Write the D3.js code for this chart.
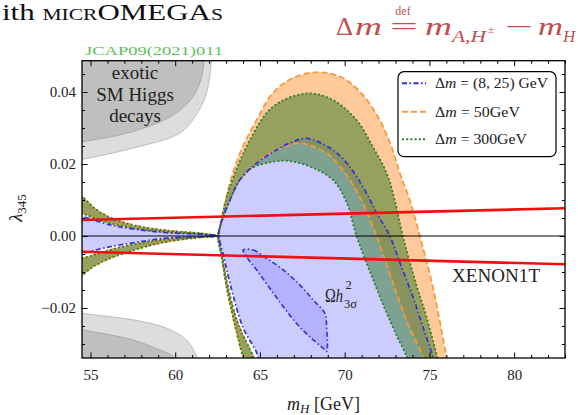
<!DOCTYPE html>
<html><head><meta charset="utf-8">
<script src="https://cdn.jsdelivr.net/npm/d3@7"></script>
<style>
body{margin:0;background:#fff}
svg{display:block}
text{font-family:"Liberation Serif","Times New Roman",serif}
</style>
</head><body>
<svg id="c" width="578" height="415"></svg>
<script>
// ---------------- data ----------------
const xDomain = [54.5, 83];
const yDomain = [-0.0339, 0.0487];
const xTicks = [55, 60, 65, 70, 75, 80];
const yTicks = [-0.02, 0.00, 0.02, 0.04];
const legendLabels = ["(8, 25) GeV", "50GeV", "300GeV"];

// Δm = 50 GeV (orange) band
const orangeOuter = [[64.2,-0.036],[64.0,-0.0335],[63.5,-0.0243],[63.03,-0.0141],[62.74,-0.0058],[62.52,0],[62.64,0.0026],[62.93,0.0092],[63.40,0.0175],[63.99,0.0248],[64.80,0.0322],[65.76,0.0397],[66.94,0.0439],[68.53,0.0455],[69.89,0.0439],[71.07,0.0392],[72.07,0.0322],[72.76,0.0248],[73.25,0.0175],[73.84,0.0100],[74.43,0.0],[75.2,-0.0141],[76.0,-0.0335],[76.1,-0.036]];
const orangeInner = [[64.75,-0.036],[64.6,-0.0335],[63.70,-0.0243],[63.11,-0.0141],[62.78,-0.0058],[62.56,0],[62.66,0.0026],[63.23,0.0100],[63.82,0.0156],[64.80,0.0202],[65.39,0.0225],[66.57,0.0250],[67.35,0.0258],[68.93,0.0230],[69.89,0.0183],[70.89,0.0109],[71.88,0.0],[72.7,-0.0110],[73.7,-0.0240],[74.6,-0.0335],[74.7,-0.036]];
// Δm = 300 GeV (green) band
const greenOuter = [[64.2,-0.036],[64.0,-0.0335],[63.5,-0.0243],[63.03,-0.0141],[62.74,-0.0058],[62.52,0],[62.64,0.0025],[62.95,0.0090],[63.23,0.0137],[64.41,0.0267],[65.76,0.0359],[67.75,0.0396],[69.30,0.0378],[70.70,0.0322],[71.66,0.0248],[72.47,0.0175],[72.95,0.0100],[73.43,0.0],[74.2,-0.0131],[74.82,-0.0224],[75.45,-0.0335],[75.55,-0.036]];
const greenInner = [[64.75,-0.036],[64.6,-0.0335],[63.70,-0.0243],[63.11,-0.0141],[62.78,-0.0058],[62.56,0],[62.66,0.0026],[63.23,0.0100],[63.82,0.0156],[64.5,0.0188],[65.4,0.0203],[66.57,0.0209],[67.94,0.0193],[69.3,0.0156],[70.1,0.0095],[70.7,0.0],[71.5,-0.0100],[72.35,-0.0200],[73.1,-0.0280],[73.65,-0.0335],[73.75,-0.036]];
// Δm = (8,25) GeV (blue) region
const blueArch = [[64.9,-0.036],[64.86,-0.0331],[63.99,-0.0253],[63.23,-0.0131],[62.87,-0.0058],[62.58,0],[62.64,0.0026],[63.23,0.0100],[63.82,0.0156],[64.80,0.0202],[65.98,0.0239],[66.76,0.0258],[67.75,0.0271],[69.30,0.0239],[70.30,0.0192],[71.18,0.0128],[71.89,0.0064],[72.66,0.0],[73.3,-0.0080],[74.02,-0.0168],[74.61,-0.0252],[75.20,-0.0335],[75.3,-0.036]];
// low-mass lips (mH < mh/2)
const lipUpperTop = [[54.0,0.0125],[54.54,0.0108],[55.37,0.0072],[56.55,0.0044],[57.92,0.0026],[59.49,0.0015],[61.46,0.00075],[62.52,0]];
const lipUpperBot = [[54.0,0.0075],[54.54,0.0063],[55.56,0.0044],[56.55,0.0031],[57.92,0.0019],[59.49,0.0011],[61.46,0.00056],[62.52,0]];
const lipLowerTop = [[54.0,-0.0067],[54.54,-0.0062],[56.15,-0.0039],[57.92,-0.0020],[59.49,-0.0009],[61.46,-0.0002],[62.52,0]];
const lipLowerBot = [[54.0,-0.0125],[54.54,-0.0108],[55.17,-0.0085],[56.15,-0.0062],[57.92,-0.0034],[59.49,-0.0016],[61.46,-0.0004],[62.52,0]];
const blueLipTop = [[54.0,0.0060],[54.54,0.0054],[56.15,0.0031],[57.92,0.0017],[59.49,0.0009],[62.44,0.0002],[62.52,0]];
const blueLipBot = [[54.0,-0.0055],[54.54,-0.0048],[56.15,-0.0030],[57.92,-0.0016],[59.49,-0.0006],[62.44,-0.0001],[62.52,0]];
// Ωh² 3σ region
const omega3s = [[64.01,-0.0039],[64.60,-0.0039],[65.39,-0.0062],[66.37,-0.0094],[67.35,-0.0136],[68.14,-0.0178],[68.83,-0.0215],[68.93,-0.0250],[68.93,-0.0321],[68.73,-0.0312],[67.94,-0.0280],[67.16,-0.0243],[66.37,-0.0196],[65.58,-0.0145],[64.80,-0.0094],[64.21,-0.0058]];
// exotic SM Higgs decays (grey)
const greyTopLight = [[54.0,0.0208],[54.54,0.0213],[57.5,0.0244],[60.28,0.0286],[61.16,0.0331],[61.85,0.0397],[62.15,0.0489],[62.2,0.05]];
const greyTopDark  = [[54.0,0.0258],[54.54,0.0262],[57.5,0.0290],[59.87,0.0336],[61.05,0.0387],[61.56,0.0443],[61.69,0.0489],[61.7,0.05]];
const greyBotLight = [[54.0,-0.0210],[54.54,-0.0215],[57.52,-0.0233],[59.49,-0.0256],[60.67,-0.0289],[61.26,-0.0335],[61.35,-0.035]];
const greyBotDark  = [[54.0,-0.0256],[54.54,-0.0261],[57.52,-0.0289],[59.1,-0.0317],[59.9,-0.0335],[60.0,-0.035]];
// XENON1T limits
const xenonUpper = [[54.5,0.00444],[83,0.0077]];
const xenonLower = [[54.5,-0.00436],[83,-0.00786]];

// ---------------- styles ----------------
const C = {
  blueFill:"rgba(40,40,255,0.24)", blueLine:"#2f2fe6",
  orangeFill:"rgba(255,135,30,0.45)", orangeLine:"#f59a3c",
  greenFill:"rgba(45,120,35,0.5)", greenLine:"#2e7d2e",
  red:"#f01010", formula:"#c05050", jcap:"#5cbf5c"
};
const dashBlue="5,2.5,1.5,2.5", dashOrange="6,3", dashGreen="2,2.2";

// ---------------- chart ----------------
const svg = d3.select("#c");
const M = {l:82, r:565, t:60.7, b:358};
const x = d3.scaleLinear().domain(xDomain).range([M.l, M.r]);
const y = d3.scaleLinear().domain(yDomain).range([M.b, M.t]);

svg.append("defs").append("clipPath").attr("id","clip")
  .append("rect").attr("x",M.l).attr("y",M.t).attr("width",M.r-M.l).attr("height",M.b-M.t);
const plot = svg.append("g").attr("clip-path","url(#clip)");

const line = d3.line().x(d=>x(d[0])).y(d=>y(d[1])).curve(d3.curveCatmullRom.alpha(0.5));
const lin = d3.line().x(d=>x(d[0])).y(d=>y(d[1]));
const band = (a,b) => line(a) + "L" + line(b.slice().reverse()).slice(1) + "Z";
const toCorner = (pts, cy) => line(pts) + `L${x(xDomain[0]-1)},${y(cy)}Z`;

// grey regions
plot.append("path").attr("d",toCorner(greyTopLight, yDomain[1]+0.01)).attr("fill","#dddddd").attr("stroke","#bdbdbd").attr("stroke-width",1);
plot.append("path").attr("d",toCorner(greyTopDark, yDomain[1]+0.01)).attr("fill","#bfbfbf").attr("stroke","#a9a9a9").attr("stroke-width",1);
plot.append("path").attr("d",toCorner(greyBotLight, yDomain[0]-0.01)).attr("fill","#dddddd").attr("stroke","#bdbdbd").attr("stroke-width",1);
plot.append("path").attr("d",toCorner(greyBotDark, yDomain[0]-0.01)).attr("fill","#bfbfbf").attr("stroke","#a9a9a9").attr("stroke-width",1);

// fills
plot.append("path").attr("d", line(blueArch)+"Z").attr("fill",C.blueFill);
plot.append("path").attr("d", band(blueLipTop, blueLipBot)).attr("fill",C.blueFill);
[[orangeOuter,orangeInner,C.orangeFill],[greenOuter,greenInner,C.greenFill]].forEach(([o,i,f])=>{
  plot.append("path").attr("d", band(o,i)).attr("fill",f);
  plot.append("path").attr("d", band(lipUpperTop,lipUpperBot)).attr("fill",f);
  plot.append("path").attr("d", band(lipLowerTop,lipLowerBot)).attr("fill",f);
});
plot.append("path").attr("d", d3.line().x(d=>x(d[0])).y(d=>y(d[1])).curve(d3.curveCatmullRomClosed.alpha(0.5))(omega3s))
  .attr("fill","rgba(60,60,255,0.17)").attr("stroke",C.blueLine).attr("stroke-width",1.6).attr("stroke-dasharray",dashBlue);

// boundary lines
function stroke(pts, col, dash, w){
  plot.append("path").attr("d",line(pts)).attr("fill","none").attr("stroke",col)
    .attr("stroke-width",w).attr("stroke-dasharray",dash);
}
[orangeOuter, orangeInner, lipUpperTop, lipUpperBot, lipLowerTop, lipLowerBot].forEach(p=>stroke(p,C.orangeLine,dashOrange,1.8));
[greenOuter, greenInner, lipUpperTop, lipUpperBot, lipLowerTop, lipLowerBot].forEach(p=>stroke(p,C.greenLine,dashGreen,1.8));
[blueArch, blueLipTop, blueLipBot].forEach(p=>stroke(p,C.blueLine,dashBlue,1.7));

// zero line and XENON1T
plot.append("path").attr("d",lin([[xDomain[0],0],[xDomain[1],0]])).attr("stroke","#000").attr("stroke-width",1);
[xenonUpper, xenonLower].forEach(p=>plot.append("path").attr("d",lin(p)).attr("stroke",C.red).attr("stroke-width",2.6));

// in-plot texts
const T = (sel,xx,yy,size) => sel.append("text").attr("x",xx).attr("y",yy).attr("font-size",size).attr("fill","#222");
T(svg,135,79,19).attr("text-anchor","middle").text("exotic");
T(svg,135,101,19).attr("text-anchor","middle").text("SM Higgs");
T(svg,135,122,19).attr("text-anchor","middle").text("decays");
T(svg,496,282,19).attr("text-anchor","middle").attr("textLength",88).text("XENON1T");
const om = T(svg,325,301.5,19).attr("textLength",18).attr("lengthAdjust","spacingAndGlyphs");
om.append("tspan").text("Ω");
om.append("tspan").attr("font-style","italic").text("h");
T(svg,345.5,289,12.5).text("2");
T(svg,344,308,12.5).text("3σ");

// frame
svg.append("rect").attr("x",M.l).attr("y",M.t).attr("width",M.r-M.l).attr("height",M.b-M.t)
  .attr("fill","none").attr("stroke","#000").attr("stroke-width",1.3);

// axes
const xMinor = d3.range(55,84,1).filter(v=>v%5!==0);
const yMinor = d3.range(-6,10).map(k=>k*0.005).filter(v=>Math.abs(Math.round(v*1000))%20!==0);
function axisStyle(g){ g.select(".domain").remove(); g.selectAll("line").attr("stroke","#000").attr("stroke-width",1);
  g.selectAll("text").attr("font-family","Liberation Serif").attr("font-size",15).attr("fill","#222"); }
svg.append("g").attr("transform",`translate(0,${M.b})`).call(d3.axisBottom(x).tickValues(xTicks).tickSizeInner(-5.5).tickSizeOuter(0).tickPadding(11).tickFormat(d3.format("d"))).call(axisStyle);
svg.append("g").attr("transform",`translate(0,${M.b})`).call(d3.axisBottom(x).tickValues(xMinor).tickSizeInner(-3).tickSizeOuter(0).tickFormat("")).call(axisStyle);
svg.append("g").attr("transform",`translate(0,${M.t})`).call(d3.axisTop(x).tickValues(xTicks).tickSizeInner(-5.5).tickSizeOuter(0).tickFormat("")).call(axisStyle);
svg.append("g").attr("transform",`translate(0,${M.t})`).call(d3.axisTop(x).tickValues(xMinor).tickSizeInner(-3).tickSizeOuter(0).tickFormat("")).call(axisStyle);
svg.append("g").attr("transform",`translate(${M.l},0)`).call(d3.axisLeft(y).tickValues(yTicks).tickSizeInner(-5.5).tickSizeOuter(0).tickPadding(6).tickFormat(d3.format(".2f"))).call(axisStyle);
svg.append("g").attr("transform",`translate(${M.l},0)`).call(d3.axisLeft(y).tickValues(yMinor).tickSizeInner(-3).tickSizeOuter(0).tickFormat("")).call(axisStyle);
svg.append("g").attr("transform",`translate(${M.r},0)`).call(d3.axisRight(y).tickValues(yTicks).tickSizeInner(-5.5).tickSizeOuter(0).tickFormat("")).call(axisStyle);
svg.append("g").attr("transform",`translate(${M.r},0)`).call(d3.axisRight(y).tickValues(yMinor).tickSizeInner(-3).tickSizeOuter(0).tickFormat("")).call(axisStyle);

// axis labels
const xl = svg.append("text").attr("x",(M.l+M.r)/2).attr("y",410).attr("text-anchor","middle").attr("font-size",18).attr("fill","#222");
xl.append("tspan").attr("font-style","italic").text("m");
xl.append("tspan").attr("font-style","italic").attr("font-size",13).attr("dy",2.5).text("H");
xl.append("tspan").attr("dy",-2.5).text(" [GeV]");
const yl = svg.append("text").attr("transform","translate(22,208) rotate(-90)").attr("text-anchor","middle").attr("font-size",19).attr("fill","#222");
yl.append("tspan").attr("font-style","italic").text("λ");
yl.append("tspan").attr("font-size",13).attr("dy",4).text("345");

// legend
const lg = svg.append("g");
lg.append("rect").attr("x",398).attr("y",71.7).attr("width",158).attr("height",85).attr("rx",6)
  .attr("fill","#fff").attr("stroke","#000").attr("stroke-width",1.2);
const legStyles = [[C.blueLine,dashBlue],[C.orangeLine,dashOrange],[C.greenLine,dashGreen]];
const legY = [83.3, 111.7, 139.3];
const legLen = [113, 85, 92];
legendLabels.forEach((lab,i)=>{
  lg.append("line").attr("x1",402).attr("x2",426).attr("y1",legY[i]).attr("y2",legY[i])
    .attr("stroke",legStyles[i][0]).attr("stroke-width",2).attr("stroke-dasharray",legStyles[i][1]);
  const t = lg.append("text").attr("x",435).attr("y",legY[i]+5).attr("font-size",15).attr("fill","#222")
    .attr("textLength",legLen[i]).attr("lengthAdjust","spacingAndGlyphs");
  t.append("tspan").text("Δ");
  t.append("tspan").attr("font-style","italic").text("m");
  t.append("tspan").text(" = " + lab);
});

// title pieces
const tt = svg.append("text").attr("x",2).attr("y",20).attr("font-size",23).attr("fill","#111")
  .attr("textLength",221).attr("lengthAdjust","spacingAndGlyphs");
tt.append("tspan").text("ith ");
tt.append("tspan").style("font-variant","small-caps").text("micr");
tt.append("tspan").text("OMEGA");
tt.append("tspan").style("font-variant","small-caps").text("s");
svg.append("text").attr("x",85).attr("y",55).attr("font-size",12).attr("fill",C.jcap)
  .attr("font-family","DejaVu Serif")
  .attr("textLength",138).attr("lengthAdjust","spacingAndGlyphs").text("JCAP09(2021)011");

// formula
const F = (xx,yy,size,txt,it,len) => {
  const t = svg.append("text").attr("x",xx).attr("y",yy).attr("font-size",size)
    .attr("fill",C.formula).attr("font-style",it?"italic":"normal").text(txt);
  if (len) t.attr("textLength",len).attr("lengthAdjust","spacingAndGlyphs");
  return t;
};
F(336,35,25,"Δ",false,17);
F(355,35,25,"m",true,27);
F(403,15,12,"def").attr("text-anchor","middle");
F(390,35,25,"=",false,28);
F(425,35,25,"m",true,27);
F(452,42,17,"A,H",true,34);
F(488,33,11,"±");
F(505,35,25,"−",false,28);
F(538,35,25,"m",true,25);
F(563,42,17,"H",true);
</script>
</body></html>
